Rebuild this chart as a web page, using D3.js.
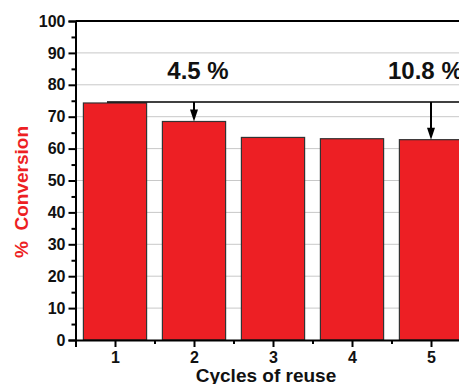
<!DOCTYPE html>
<html>
<head>
<meta charset="utf-8">
<script src="https://cdn.jsdelivr.net/npm/d3@7"></script>
<style>
  body { margin: 0; background: #fff; }
  svg { display: block; font-family: "Liberation Sans", Arial, sans-serif; }
</style>
</head>
<body>
<div id="chart"></div>
<script>
// data
const cycles = [1, 2, 3, 4, 5];
const conversion = [74.3, 68.5, 63.5, 63.1, 62.8];
const yTicks = [0, 10, 20, 30, 40, 50, 60, 70, 80, 90, 100];
const refLevel = 74.6;          // level of the horizontal reference line
const drops = [                  // arrows + labels
    { cycle: 2, label: "4.5 %" },
    { cycle: 5, label: "10.8 %" }
];

const W = 459, H = 384;
const red = "#ed1f24";

const svg = d3.select("#chart").append("svg")
    .attr("width", W)
    .attr("height", H);

// plot spans past the right edge of the window (the reference is cropped there)
const x = d3.scaleLinear().domain([0.5, 5.5]).range([75.5, 470.5]);
const y = d3.scaleLinear().domain([0, 100]).range([340, 21]);
const step = x(2) - x(1);
const barW = step * 0.8;

// grid
svg.append("g")
    .selectAll("line")
    .data(yTicks.filter(d => d > 0 && d < 100))
    .join("line")
    .attr("x1", x(0.5)).attr("x2", W)
    .attr("y1", d => y(d)).attr("y2", d => y(d))
    .attr("stroke", "#c8c8c8")
    .attr("stroke-width", 1);

// bars
svg.append("g")
    .selectAll("rect")
    .data(cycles)
    .join("rect")
    .attr("x", (d) => x(d) - barW / 2)
    .attr("y", (d, i) => y(conversion[i]))
    .attr("width", barW)
    .attr("height", (d, i) => y(0) - y(conversion[i]))
    .attr("fill", red)
    .attr("stroke", "#333")
    .attr("stroke-width", 1.2);

// top frame line
svg.append("line")
    .attr("x1", x(0.5)).attr("x2", W)
    .attr("y1", y(100)).attr("y2", y(100))
    .attr("stroke", "#000").attr("stroke-width", 2);

// y axis
const yAxis = d3.axisLeft(y).tickValues(yTicks).tickSize(7).tickPadding(3);
const yG = svg.append("g")
    .attr("transform", `translate(${x(0.5)},0)`)
    .call(yAxis);
yG.select(".domain").attr("stroke-width", 2);
yG.selectAll(".tick line").attr("stroke-width", 2);
yG.selectAll(".tick text")
    .style("font-size", "16px").style("font-weight", "bold").attr("fill", "#111");

const yMinor = d3.axisLeft(y).tickValues(d3.range(5, 100, 10)).tickSize(4).tickFormat("");
const yMG = svg.append("g").attr("transform", `translate(${x(0.5)},0)`).call(yMinor);
yMG.select(".domain").remove();
yMG.selectAll(".tick line").attr("stroke-width", 2);

// x axis
const xAxis = d3.axisBottom(x).tickValues(cycles).tickFormat(d3.format("d")).tickSize(7).tickPadding(5);
const xG = svg.append("g")
    .attr("transform", `translate(0,${y(0)})`)
    .call(xAxis);
xG.select(".domain").attr("stroke-width", 2);
xG.selectAll(".tick line").attr("stroke-width", 2);
xG.selectAll(".tick text")
    .style("font-size", "16px").style("font-weight", "bold").attr("fill", "#111");

const xMinor = d3.axisBottom(x).tickValues([1.5, 2.5, 3.5, 4.5]).tickSize(4).tickFormat("");
const xMG = svg.append("g").attr("transform", `translate(0,${y(0)})`).call(xMinor);
xMG.select(".domain").remove();
xMG.selectAll(".tick line").attr("stroke-width", 2);

// axis titles
svg.append("text")
    .attr("x", 266)
    .attr("y", 382)
    .attr("text-anchor", "middle")
    .style("font-size", "19px").style("font-weight", "bold")
    .attr("fill", "#111")
    .text("Cycles of reuse");

svg.append("text")
    .attr("transform", `translate(28,192) rotate(-90)`)
    .attr("text-anchor", "middle")
    .style("font-size", "19px").style("font-weight", "bold")
    .attr("fill", red)
    .attr("xml:space", "preserve")
    .text("%  Conversion");

// reference line from bar 1 level
svg.append("line")
    .attr("x1", x(1) - 8).attr("x2", W)
    .attr("y1", y(refLevel)).attr("y2", y(refLevel))
    .attr("stroke", "#000").attr("stroke-width", 1.5);

// arrows
const ann = svg.append("g");
drops.forEach(dd => {
    const cx = x(dd.cycle);
    const yEnd = y(conversion[dd.cycle - 1]);
    ann.append("line")
        .attr("x1", cx).attr("x2", cx)
        .attr("y1", y(refLevel)).attr("y2", yEnd - 10)
        .attr("stroke", "#000").attr("stroke-width", 2);
    ann.append("path")
        .attr("d", `M${cx - 4},${yEnd - 12} L${cx + 4},${yEnd - 12} L${cx},${yEnd} Z`)
        .attr("fill", "#000");
});

// labels
ann.append("text")
    .attr("x", x(2) + 4).attr("y", 79)
    .attr("text-anchor", "middle")
    .style("font-size", "24px").style("font-weight", "bold")
    .attr("fill", "#111")
    .text(drops[0].label);
ann.append("text")
    .attr("x", 388).attr("y", 79)
    .attr("text-anchor", "start")
    .style("font-size", "24px").style("font-weight", "bold")
    .attr("fill", "#111")
    .text(drops[1].label);
</script>
</body>
</html>
